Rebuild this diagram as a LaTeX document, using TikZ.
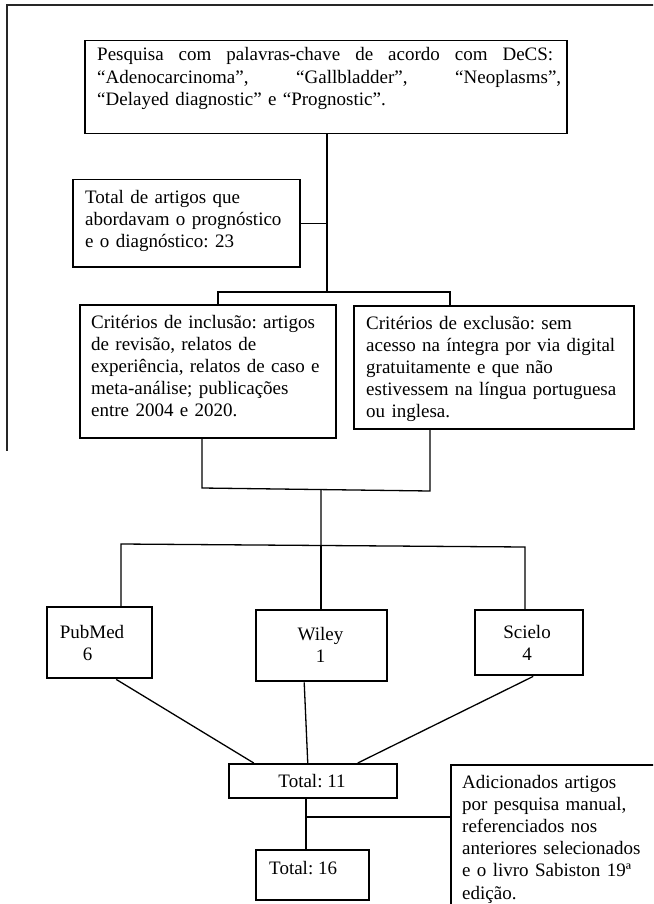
\documentclass[tikz,border=0pt]{standalone}
\usepackage{fontspec}
\setmainfont{Liberation Serif}
\usetikzlibrary{calc}
\frenchspacing
\begin{document}
\frenchspacing
\begin{tikzpicture}[x=1pt,y=-1pt,
  box/.style={draw, line width=1.5pt, inner sep=0pt, anchor=north west},
  dbbox/.style={box, line width=2.4pt},
  conn/.style={line width=1.3pt},
  frameline/.style={line width=2.2pt, black!85, line cap=rect},
  txt/.style={inner sep=0pt, font=\fontsize{19}{22.2}\selectfont, align=left, anchor=base west},
  ctxt/.style={inner sep=0pt, font=\fontsize{19}{22.2}\selectfont, align=center, anchor=base},
]
\clip (0,0) rectangle (653,904);
\useasboundingbox (0,0) rectangle (653,904);
\fill[white] (0,0) rectangle (653,904);

% outer frame (partial)
\draw[frameline] (7,450) -- (7,5) -- (660,5);

% boxes
\node[box, minimum width=482pt, minimum height=93pt] (top) at (84,40) {};
\node[box, minimum width=227pt, minimum height=87pt] (tot) at (72,179) {};
\node[box, minimum width=256pt, minimum height=133pt] (inc) at (79,304) {};
\node[box, minimum width=280pt, minimum height=123pt] (exc) at (353,305) {};
\node[dbbox, minimum width=105pt, minimum height=71pt] (pub) at (46,606) {};
\node[dbbox, minimum width=131pt, minimum height=71pt] (wil) at (255,609) {};
\node[dbbox, minimum width=108pt, minimum height=65pt] (sci) at (474,609) {};
\node[box, minimum width=168pt, minimum height=34pt] (t11) at (228,763) {};
\node[box, minimum width=113pt, minimum height=50pt] (t16) at (255,849) {};
\node[box, minimum width=215pt, minimum height=160pt] (add) at (450,764) {};

% texts
\node[txt, text width=475pt] (ttop) at (97,61) {\makebox[456pt][l]{Pesquisa\hfill com\hfill palavras-chave\hfill de\hfill acordo\hfill com\hfill DeCS:}\\
\makebox[464pt][l]{“Adenocarcinoma”,\hfill “Gallbladder”,\hfill “Neoplasms”,}\\
“Delayed diagnostic” e “Prognostic”.};
\node[txt, text width=212pt] (ttot) at (85,203) {Total de artigos que\\abordavam o prognóstico\\e o diagnóstico: 23};
\node[txt, text width=242pt] (tinc) at (91,328) {Critérios de inclusão: artigos\\de revisão, relatos de\\experiência, relatos de caso e\\meta-análise; publicações\\entre 2004 e 2020.};
\node[txt, text width=266pt] (texc) at (366,329) {Critérios de exclusão: sem\\acesso na íntegra por via digital\\gratuitamente e que não\\estivessem na língua portuguesa\\ou inglesa.};
\node[ctxt, text width=100pt] (tpub) at (92,638) {PubMed\\\hspace*{-9pt}6};
\node[ctxt, text width=120pt] (twil) at (320.5,640) {Wiley\\1};
\node[ctxt, text width=100pt] (tsci) at (527,638) {Scielo\\4};
\node[ctxt] (tt11) at (312,787) {Total: 11};
\node[txt] (tt16) at (269,874) {Total: 16};
\node[txt, text width=195pt] (tadd) at (462,788) {Adicionados artigos\\por pesquisa manual,\\referenciados nos\\anteriores selecionados\\e o livro Sabiston 19ª\\edição.};

% junction coordinates
\coordinate (j1) at (327,292);
\coordinate (j1l) at (218,292);
\coordinate (j1r) at (450,292);
\coordinate (u1) at (202,488);
\coordinate (u2) at (430,491);
\coordinate (um) at ($(u1)!0.522!(u2)$);
\coordinate (h1) at (121,544);
\coordinate (h3) at (525,547);
\coordinate (h2) at ($(h1)!0.495!(h3)$);
\coordinate (k1) at (306,817);

% connectors
\draw[conn] (top.south -| j1) -- (j1);
\draw[conn] (tot.east) -- (tot.east -| j1);
\draw[conn] (inc.north -| j1l) -- (j1l) -- (j1r) -- (exc.north -| j1r);
\draw[conn] (inc.south -| u1) -- (u1) -- (u2) -- (exc.south -| u2);
\draw[conn] (um) -- (h2);
\draw[conn] (pub.north -| h1) -- (h1) -- (h3) -- (sci.north -| h3);
\draw[conn] (h2) -- (wil.north -| h2);
\draw[conn] ([xshift=16.5pt]pub.south) -- ([xshift=-59pt]t11.north);
\draw[conn] ([xshift=-17.5pt]wil.south) -- ([xshift=-5pt]t11.north);
\draw[conn] ([xshift=4pt]sci.south) -- ([xshift=45pt]t11.north);
\draw[conn] (t11.south -| k1) -- (t16.north -| k1);
\draw[conn] (k1) -- (add.west |- k1);
\end{tikzpicture}
\end{document}
